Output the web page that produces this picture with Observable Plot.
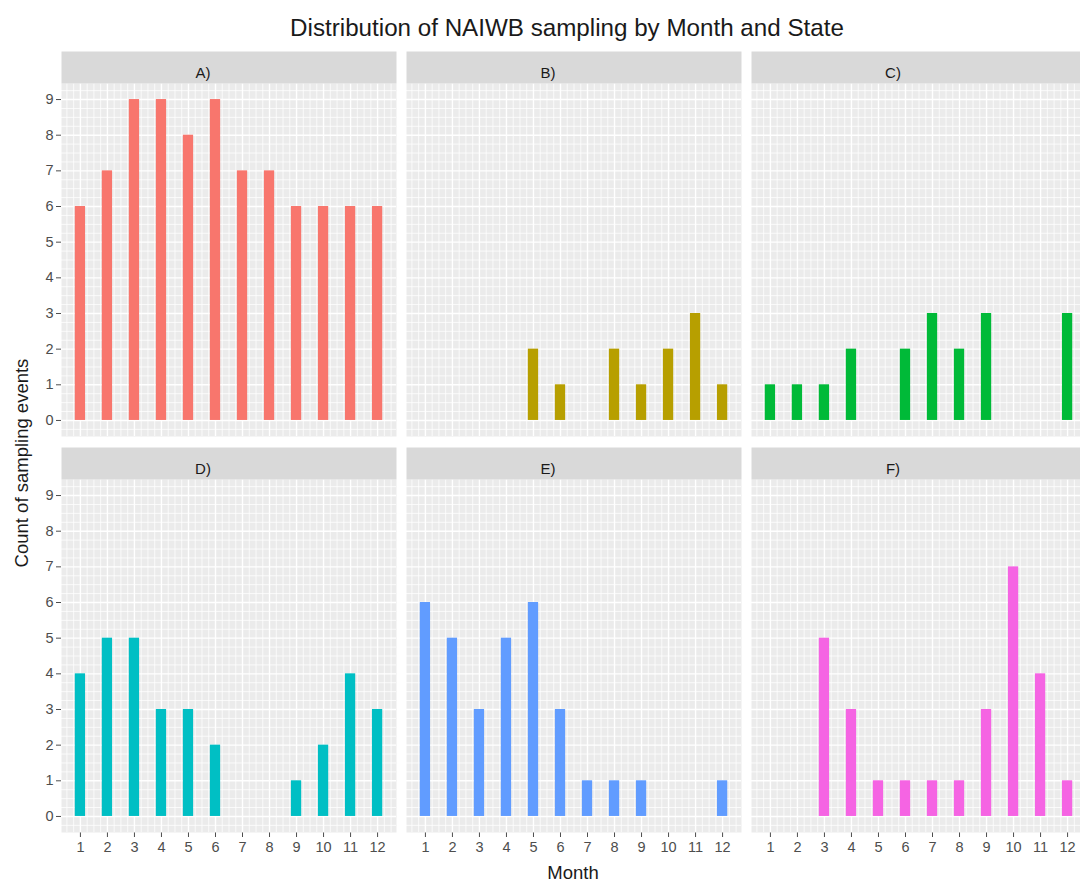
<!DOCTYPE html>
<html>
<head>
<meta charset="utf-8">
<script src="https://cdn.jsdelivr.net/npm/d3@7"></script>
<script src="https://cdn.jsdelivr.net/npm/@observablehq/plot@0.6"></script>
<style>
  html, body { margin: 0; padding: 0; background: #fff; overflow: hidden; }
  #wrap { position: relative; width: 1080px; height: 884px; overflow: hidden; font-family: "Liberation Sans", Arial, sans-serif; }
  #chart { position: absolute; left: 0; top: 0; width: 1090px; }
  #chart svg { max-width: none !important; }
  .title { position: absolute; left: 0; top: 14px; width: 1134px; text-align: center; font-size: 24.2px; line-height: 28px; color: #1a1a1a; }
  .ylab { position: absolute; left: 22px; top: 463px; transform: translate(-50%, -50%) rotate(-90deg); white-space: nowrap; font-size: 18.5px; color: #1a1a1a; }
  .xlab { position: absolute; left: 573px; top: 873px; transform: translate(-50%, -50%); white-space: nowrap; font-size: 18.5px; color: #1a1a1a; }
</style>
</head>
<body>
<div id="wrap">
  <div id="chart"></div>
  <div class="title">Distribution of NAIWB sampling by Month and State</div>
  <div class="ylab">Count of sampling events</div>
  <div class="xlab">Month</div>
</div>
<script>
const months = [1, 2, 3, 4, 5, 6, 7, 8, 9, 10, 11, 12];
const panels = ["A)", "B)", "C)", "D)", "E)", "F)"];
const countsA = [6, 7, 9, 9, 8, 9, 7, 7, 6, 6, 6, 6];
const countsB = [0, 0, 0, 0, 2, 1, 0, 2, 1, 2, 3, 1];
const countsC = [1, 1, 1, 2, 0, 2, 3, 2, 3, 0, 0, 3];
const countsD = [4, 5, 5, 3, 3, 2, 0, 0, 1, 2, 4, 3];
const countsE = [6, 5, 3, 5, 6, 3, 1, 1, 1, 0, 0, 1];
const countsF = [0, 0, 5, 3, 1, 1, 1, 1, 3, 7, 4, 1];
const colors = ["#F8766D", "#B79F00", "#00BA38", "#00BFC4", "#619CFF", "#F564E3"];
const yTicks = [0, 1, 2, 3, 4, 5, 6, 7, 8, 9];

const allCounts = [countsA, countsB, countsC, countsD, countsE, countsF];
const rows = [];
panels.forEach((p, i) => {
  allCounts[i].forEach((c, j) => {
    if (c > 0) rows.push({panel: p, col: i % 3, row: Math.floor(i / 3), month: months[j], count: c});
  });
});
const strips = panels.map((p, i) => ({panel: p, col: i % 3, row: Math.floor(i / 3)}));

const panelW = 335, gapX = 10, panelH = 353, gapY = 43, stripH = 32;
const barHalf = 0.19;

const minorY = d3.range(-0.25, 9.5, 0.25).filter(v => Math.abs(v - Math.round(v)) > 1e-6);
const minorX = d3.range(0.5, 12.75, 0.25).filter(v => Math.abs(v - Math.round(v)) > 1e-6);

const chart = Plot.plot({
  width: 1090,
  height: 884,
  marginTop: 83,
  marginBottom: 52,
  marginLeft: 61,
  marginRight: 4,
  style: {fontFamily: "'Liberation Sans', Arial, sans-serif", fontSize: "14.5px", color: "#4D4D4D", background: "white", overflow: "visible", maxWidth: "none"},
  fx: {domain: [0, 1, 2], axis: null, paddingInner: gapX / (panelW + gapX), paddingOuter: 0},
  fy: {domain: [0, 1], axis: null, paddingInner: gapY / (panelH + gapY), paddingOuter: 0},
  x: {domain: [0.3, 12.7], ticks: months, tickFormat: d => String(d), label: null, tickSize: 5, tickPadding: 4},
  y: {domain: [-0.45, 9.45], ticks: yTicks, label: null, tickSize: 5, tickPadding: 3},
  color: {domain: panels, range: colors},
  marks: [
    Plot.frame({fill: "#EBEBEB"}),
    Plot.ruleY(minorY, {stroke: "white", strokeWidth: 0.9, strokeOpacity: 0.85}),
    Plot.ruleX(minorX, {stroke: "white", strokeWidth: 0.9, strokeOpacity: 0.85}),
    Plot.ruleY(yTicks, {stroke: "white", strokeWidth: 1.4}),
    Plot.ruleX(months, {stroke: "white", strokeWidth: 1.4}),
    Plot.rectY(rows, {fx: "col", fy: "row", x1: d => d.month - barHalf, x2: d => d.month + barHalf, y1: 0, y2: "count", fill: "panel"}),
    Plot.frame({fill: "#D9D9D9", insetTop: -stripH, insetBottom: panelH}),
    Plot.text(strips, {fx: "col", fy: "row", text: "panel", frameAnchor: "top", dy: -stripH / 2, dx: -26, fontSize: 15, fill: "#1A1A1A"})
  ]
});
document.getElementById("chart").appendChild(chart);
</script>
</body>
</html>
